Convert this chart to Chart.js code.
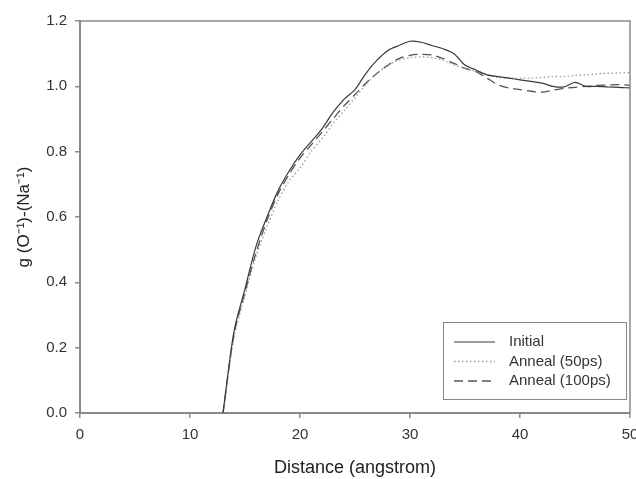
<!DOCTYPE html>
<html>
<head>
<meta charset="utf-8">
<script src="https://cdn.jsdelivr.net/npm/chart.js@4.4.1/dist/chart.umd.min.js"></script>
<style>
  html, body { margin: 0; padding: 0; background: #fff; }
  #wrap { width: 636px; height: 479px; }
</style>
</head>
<body>
<div id="wrap"><canvas id="grafico" width="636" height="479"></canvas></div>
<script>
// Distancias (angstrom)
const distancias = [13, 14, 15, 16, 17, 18, 19, 20, 21, 22, 23, 24, 25, 26, 27, 28, 29, 30, 31,
  32, 33, 34, 35, 36, 37, 38, 39, 40, 41, 42, 43, 44, 45, 46, 47, 48, 49, 50];

const inicial = [0, 0.25, 0.38, 0.51, 0.60, 0.68, 0.74, 0.79, 0.83, 0.87, 0.92, 0.96, 0.99, 1.04,
  1.08, 1.11, 1.125, 1.138, 1.135, 1.125, 1.115, 1.10, 1.065, 1.05, 1.035, 1.03, 1.025, 1.02,
  1.015, 1.01, 1.0, 0.998, 1.012, 1.0, 1.0, 0.998, 0.997, 0.995];

const anneal50 = [0, 0.23, 0.36, 0.48, 0.57, 0.65, 0.71, 0.75, 0.80, 0.84, 0.885, 0.925, 0.965,
  1.005, 1.04, 1.065, 1.08, 1.088, 1.09, 1.088, 1.08, 1.065, 1.055, 1.045, 1.035, 1.027, 1.025,
  1.025, 1.025, 1.027, 1.03, 1.03, 1.033, 1.035, 1.038, 1.04, 1.041, 1.042];

const anneal100 = [0, 0.24, 0.37, 0.49, 0.59, 0.67, 0.73, 0.78, 0.82, 0.86, 0.90, 0.94, 0.975,
  1.01, 1.04, 1.065, 1.085, 1.095, 1.098, 1.096, 1.085, 1.07, 1.055, 1.045, 1.025, 1.005, 0.995,
  0.99, 0.985, 0.982, 0.988, 0.994, 0.997, 1.0, 1.003, 1.004, 1.005, 1.003];

const etiquetas = ['Initial', 'Anneal (50ps)', 'Anneal (100ps)'];
const ticksX = [0, 10, 20, 30, 40, 50];
const ticksY = [0, 0.2, 0.4, 0.6, 0.8, 1.0, 1.2];

const fuente = '"Liberation Sans", Arial, sans-serif';
const colorEje = '#8a8a8a';

function puntos(serie) {
  return distancias.map((d, i) => ({ x: d, y: serie[i] }));
}

// Marco superior/derecho y leyenda dentro del área
const marcoYLeyenda = {
  id: 'marcoYLeyenda',
  afterDraw(chart) {
    const { ctx, chartArea: a } = chart;
    ctx.save();
    ctx.strokeStyle = colorEje;
    ctx.lineWidth = 1.5;
    ctx.beginPath();
    ctx.moveTo(a.left, a.top);
    ctx.lineTo(a.right, a.top);
    ctx.lineTo(a.right, a.bottom);
    ctx.stroke();

    // leyenda
    const bx = 443, by = 322, bw = 183, bh = 77;
    ctx.fillStyle = '#fff';
    ctx.fillRect(bx, by, bw, bh);
    ctx.lineWidth = 1;
    ctx.strokeStyle = '#888';
    ctx.strokeRect(bx + 0.5, by + 0.5, bw, bh);
    ctx.font = '15px ' + fuente;
    ctx.textBaseline = 'middle';
    chart.data.datasets.forEach((ds, i) => {
      const y = 342 + i * 19.5;
      ctx.strokeStyle = ds.borderColor;
      ctx.lineWidth = ds.borderWidth;
      ctx.setLineDash(ds.borderDash || []);
      ctx.beginPath();
      ctx.moveTo(454, y);
      ctx.lineTo(495, y);
      ctx.stroke();
      ctx.setLineDash([]);
      ctx.fillStyle = '#333';
      ctx.fillText(ds.label, 509, y);
    });
    ctx.restore();
  }
};

new Chart(document.getElementById('grafico'), {
  type: 'line',
  data: {
    datasets: [
      { label: etiquetas[0], data: puntos(inicial), borderColor: '#3a3a3a', borderWidth: 1.2 },
      { label: etiquetas[1], data: puntos(anneal50), borderColor: '#9a9a9a', borderWidth: 1.3, borderDash: [1.5, 2.5] },
      { label: etiquetas[2], data: puntos(anneal100), borderColor: '#555', borderWidth: 1.3, borderDash: [9, 5] }
    ]
  },
  options: {
    responsive: false,
    animation: false,
    layout: { padding: { top: 21, right: 6, left: 0, bottom: 0 } },
    elements: { point: { radius: 0 }, line: { tension: 0.3, fill: false } },
    plugins: { legend: { display: false }, tooltip: { enabled: false } },
    scales: {
      x: {
        type: 'linear',
        min: 0, max: 50,
        afterBuildTicks: s => { s.ticks = ticksX.map(v => ({ value: v })); },
        afterFit: s => { s.height = 66; s.paddingRight = 0; s.paddingLeft = 0; },
        grid: { display: true, drawOnChartArea: false, drawTicks: true, tickLength: 5, color: colorEje, lineWidth: 1.5 },
        border: { display: true, color: colorEje, width: 2 },
        ticks: { color: '#333', font: { family: fuente, size: 15 }, padding: 8 },
        title: { display: true, text: 'Distance (angstrom)', color: '#222', font: { family: fuente, size: 18 }, padding: { top: 4, bottom: 0 } }
      },
      y: {
        min: 0, max: 1.2,
        afterBuildTicks: s => { s.ticks = ticksY.map(v => ({ value: v })); },
        afterFit: s => { s.width = 80; s.paddingTop = 0; s.paddingBottom = 0; },
        grid: { display: true, drawOnChartArea: false, drawTicks: true, tickLength: 5, color: colorEje, lineWidth: 1.5 },
        border: { display: true, color: colorEje, width: 2 },
        ticks: { color: '#333', font: { family: fuente, size: 15 }, padding: 8, callback: v => v.toFixed(1) },
        title: { display: true, text: 'g (O⁻¹)-(Na⁻¹)', color: '#222', font: { family: fuente, size: 17 }, padding: { top: 14, bottom: 4 } }
      }
    }
  },
  plugins: [marcoYLeyenda]
});
</script>
</body>
</html>
